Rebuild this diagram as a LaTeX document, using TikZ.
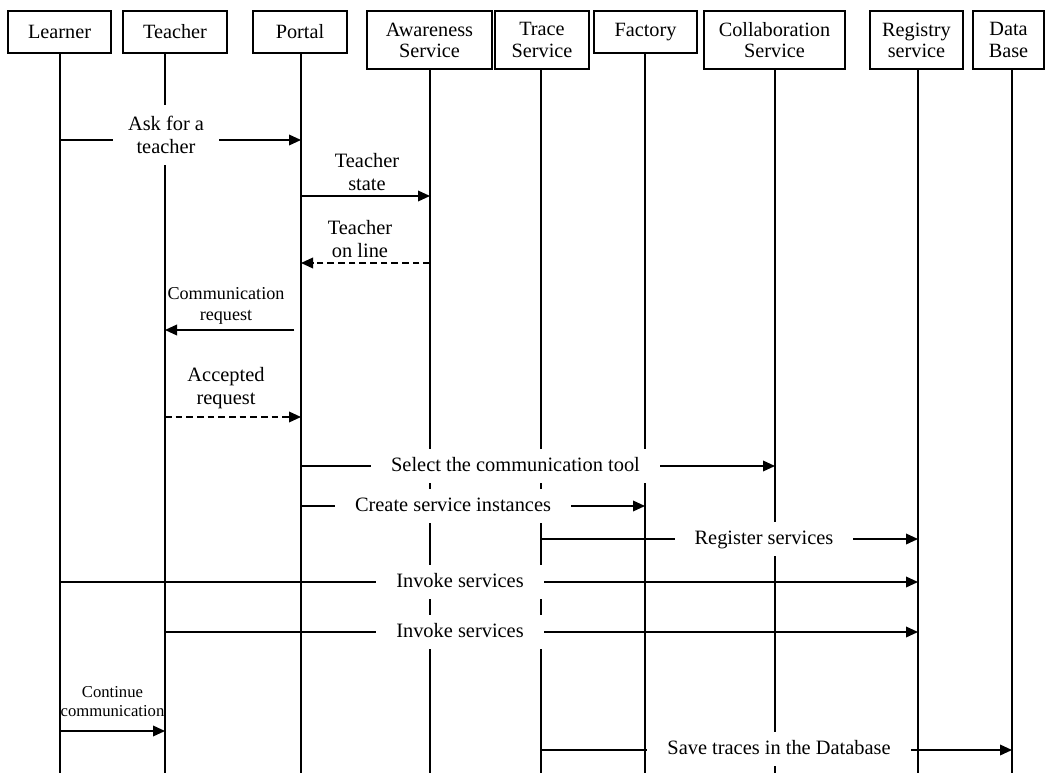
\documentclass[tikz,border=0pt]{standalone}
\usepackage{fontspec}
\setmainfont{Liberation Serif}
\usetikzlibrary{arrows.meta}
\begin{document}
\begin{tikzpicture}[x=0.75pt,y=-0.75pt,
  actor/.style={draw, line width=1.5pt, inner sep=0pt, align=center, anchor=north,
    minimum height=31.5pt, font=\fontsize{15.2pt}{15.8pt}\selectfont},
  actortwo/.style={actor, minimum height=43.5pt},
  lifeline/.style={line width=1.1pt},
  msg/.style={line width=1.1pt, -{Triangle[length=9pt,width=8pt]}},
  reply/.style={msg, dash pattern=on 5pt off 3pt},
  lbl/.style={fill=white, inner xsep=15pt, inner ysep=8.5pt, text height=0.88em,
    text depth=0.02em, font=\fontsize{15.3pt}{17.25pt}\selectfont},
  lbltwo/.style={fill=white, align=center, inner xsep=11pt, inner ysep=8.5pt,
    font=\fontsize{15.3pt}{17.25pt}\selectfont},
  note/.style={align=center, inner sep=0pt, font=\fontsize{15.3pt}{17.25pt}\selectfont},
  smallnote/.style={note, font=\fontsize{13.6pt}{15.75pt}\selectfont},
  tinynote/.style={note, font=\fontsize{12.5pt}{14.3pt}\selectfont}
]
\useasboundingbox (0,0) rectangle (1045,773);

% participants
\node[actor, minimum width=77.25pt] (learner) at (59.5,10) {Learner};
\node[actor, minimum width=78pt] (teacher) at (175,10) {Teacher};
\node[actor, minimum width=70.5pt] (portal) at (300,10) {Portal};
\node[actortwo, minimum width=93.75pt] (aware) at (429.5,10) {Awareness\\Service};
\node[actortwo, minimum width=70.5pt] (trace) at (542,10) {Trace\\Service};
\node[actor, minimum width=77.25pt] (factory) at (645.5,10) {Factory};
\node[actortwo, minimum width=105.75pt] (collab) at (774.5,10) {Collaboration\\Service};
\node[actortwo, minimum width=69.75pt] (registry) at (916.5,10) {Registry\\service};
\node[actortwo, minimum width=53.25pt] (db) at (1008.5,10) {Data\\Base};

% lifelines
\coordinate (lowend) at (0,773);
\foreach \n/\x in {learner/60, teacher/165, portal/301, aware/430, trace/541,
                   factory/645, collab/775, registry/918, db/1012} {
  \coordinate (\n-x) at (\x,0);
  \draw[lifeline] (\n.south -| \n-x) -- (\n-x |- lowend);
}

% messages
\draw[msg] (learner-x |- 0,140) -- (portal-x |- 0,140);
\draw[msg] (portal-x |- 0,196) -- (aware-x |- 0,196);
\draw[reply] (aware-x |- 0,263) -- (portal-x |- 0,263);
\draw[msg, shorten <=5pt] (portal-x |- 0,330) -- (teacher-x |- 0,330);
\draw[reply] (teacher-x |- 0,417) -- (portal-x |- 0,417);
\draw[msg] (portal-x |- 0,466) -- (collab-x |- 0,466);
\draw[msg] (portal-x |- 0,506) -- (factory-x |- 0,506);
\draw[msg] (trace-x |- 0,539) -- (registry-x |- 0,539);
\draw[msg] (learner-x |- 0,582) -- (registry-x |- 0,582);
\draw[msg] (teacher-x |- 0,632) -- (registry-x |- 0,632);
\draw[msg] (learner-x |- 0,731) -- (teacher-x |- 0,731);
\draw[msg] (trace-x |- 0,750) -- (db-x |- 0,750);

% message labels
\node[lbltwo] (m1) at (166,135) {Ask for a\\teacher};
\node[note] (m2) at (367,172) {Teacher\\state};
\node[note] (m3) at (360,239) {Teacher\\on line};
\node[smallnote] (m4) at (226,306) {Communication\\request};
\node[note] (m5) at (226,388) {Accepted\\request};
\node[lbl] (m6) at (515.5,466) {Select the communication tool};
\node[lbl] (m7) at (453,506) {Create service instances};
\node[lbl] (m8) at (764,539) {Register services};
\node[lbl] (m9) at (460,582) {Invoke services};
\node[lbl] (m10) at (460,632) {Invoke services};
\node[tinynote] (m11) at (112.5,702) {Continue\\communication};
\node[lbl] (m12) at (779,749) {Save traces in the Database};
\end{tikzpicture}
\end{document}
